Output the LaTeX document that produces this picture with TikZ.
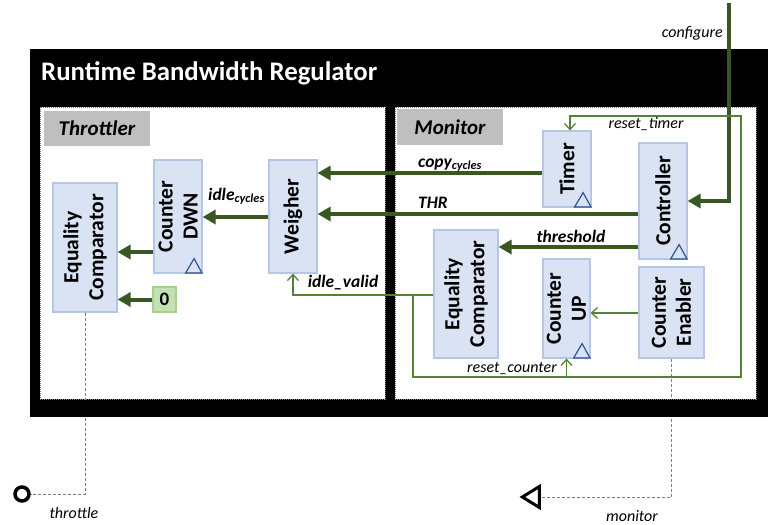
\documentclass[tikz,border=0pt]{standalone}
\usepackage{fontspec}
\setmainfont{Carlito}
\usetikzlibrary{arrows.meta,shapes.geometric,calc}
\definecolor{dkgreen}{HTML}{385723}
\definecolor{mdgreen}{HTML}{548235}
\definecolor{blkfill}{HTML}{DAE3F3}
\definecolor{blkdraw}{HTML}{B4C7E7}
\definecolor{tridraw}{HTML}{2F5597}
\definecolor{lblgray}{HTML}{BFBFBF}
\definecolor{zfill}{HTML}{C5E0B4}
\definecolor{zdraw}{HTML}{A9D18E}
\definecolor{dashgray}{HTML}{7F7F7F}
\begin{document}
\begin{tikzpicture}[x=1pt,y=-1pt,
  blk/.style={draw=blkdraw, fill=blkfill, line width=1.2pt, inner sep=0pt},
  blktext/.style={rotate=90, align=center, font=\fontsize{21.5}{25}\selectfont\bfseries, inner sep=0pt},
  thickarrow/.style={draw=dkgreen, line width=4pt, -{Triangle[length=13pt,width=14pt]}},
  thinarrow/.style={draw=mdgreen, line width=1.3pt, -{Straight Barb[length=6pt,width=11pt]}},
  thinline/.style={draw=mdgreen, line width=1.3pt},
  dashline/.style={draw=dashgray, line width=0.9pt, dash pattern=on 3pt off 2pt},
  panel/.style={draw=dashgray, fill=white, line width=0.9pt, dash pattern=on 1pt off 1pt},
  tagbox/.style={fill=lblgray, inner sep=0pt, font=\fontsize{21}{25}\selectfont\bfseries\itshape},
  siglabel/.style={font=\fontsize{17.5}{20}\selectfont\bfseries\itshape, inner sep=0pt},
  smalllabel/.style={font=\fontsize{16}{19}\selectfont\itshape, inner sep=0pt},
  clocktri/.style={draw=tridraw, line width=1.2pt}
]
\useasboundingbox (0,0) rectangle (780,525);

% frame and panels
\fill[black] (30,49) rectangle (768,417);
\draw[panel] (40,107) rectangle (385,399);
\draw[panel] (395,107) rectangle (756,399);
\node[anchor=base west, text=white, font=\fontsize{26.8}{30}\selectfont\bfseries, inner sep=0pt] (title) at (41,80) {Runtime Bandwidth Regulator};
\node[tagbox, minimum width=106, minimum height=35] (thtag) at (97,128.5) {Throttler};
\node[tagbox, minimum width=106, minimum height=36] (motag) at (450,127) {Monitor};

% blocks
\node[blk, minimum width=64, minimum height=129] (eqt) at (85,247.5) {};
\node[blktext] at (eqt) {Equality\\Comparator};
\node[blk, minimum width=48, minimum height=113] (cdwn) at (178,216.5) {};
\node[blktext] at (cdwn) {Counter\\DWN};
\node[blk, minimum width=48, minimum height=113] (weigh) at (293,216.5) {};
\node[blktext] at (weigh) {Weigher};
\node[draw=zdraw, fill=zfill, line width=1.2pt, minimum width=23, minimum height=25, inner sep=0pt, font=\fontsize{19}{21}\selectfont\bfseries] (zero) at (164.5,299.5) {0};
\node[blk, minimum width=48, minimum height=76] (timer) at (567,169) {};
\node[blktext] at (timer) {Timer};
\node[blk, minimum width=48, minimum height=116] (ctrl) at (663,201) {};
\node[blktext] at (ctrl) {Controller};
\node[blk, minimum width=64, minimum height=128] (eqm) at (466,294) {};
\node[blktext] at (eqm) {Equality\\Comparator};
\node[blk, minimum width=47, minimum height=99] (cup) at (566.5,308.5) {};
\node[blktext] at (cup) {Counter\\UP};
\node[blk, minimum width=65, minimum height=91] (cen) at (671.5,312.5) {};
\node[blktext] at (cen) {Counter\\Enabler};

% clock triangles
\foreach \b in {cdwn,timer,ctrl,cup}{
  \draw[clocktri] ($(\b.south east)+(-17,-0.6)$) -- ($(\b.south east)+(-8.5,-15)$) -- ($(\b.south east)+(-0.6,-0.6)$) -- cycle;
}

% terminals
\node[circle, draw=black, line width=3.5pt, minimum size=14pt, inner sep=0pt] (thr) at (22,494) {};
\node[isosceles triangle, isosceles triangle stretches, shape border rotate=180, draw=black, line width=3pt, minimum height=17pt, minimum width=21pt, inner sep=0pt] (mon) at (533.5,497) {};
\coordinate (cfgtop) at (729,3);

% dashed outputs
\draw[dashline] (eqt.south) -- (eqt.south |- thr) -- (thr.east);
\draw[dashline] (cen.south) -- (cen.south |- mon.east) -- (mon.east);
\fill[black] (30,400) rectangle (768,417);

% thick arrows
\draw[thickarrow] (cfgtop) -- (cfgtop |- ctrl.east) -- (ctrl.east);
\draw[thickarrow] (timer.west |- 0,173) -- (weigh.east |- 0,173);
\draw[thickarrow] (ctrl.west |- 0,214) -- (weigh.east |- 0,214);
\draw[thickarrow] (ctrl.west |- 0,247) -- (eqm.east |- 0,247);
\draw[thickarrow] (weigh.west |- 0,217) -- (cdwn.east |- 0,217);
\draw[thickarrow] (cdwn.west |- 0,252) -- (eqt.east |- 0,252);
\draw[thickarrow] (zero.west) -- (eqt.east |- zero.west);

% thin arrows
\coordinate (j1) at (413,295);
\draw[thinarrow] (eqm.west |- j1) -- (weigh.south |- j1) -- (weigh.south);
\draw[thinarrow] (j1) -- (413,377) -- (741,377) -- (741,116) -- ([xshift=3pt]timer.north |- 0,116) -- ([xshift=3pt]timer.north);
\draw[thinarrow] (cup.south |- 0,377) -- (cup.south);
\draw[thinarrow] (cen.west |- 0,313) -- (cup.east |- 0,313);

% labels
\node[smalllabel, anchor=east] (lcfg) at (723,33) {configure};
\node[smalllabel] (lrt) at (646,124) {reset\_timer};
\node[smalllabel] (lrc) at (512,369) {reset\_counter};
\node[smalllabel] (lthr) at (74,513) {throttle};
\node[smalllabel] (lmon) at (632,516) {monitor};
\node[siglabel, anchor=base west] (lcopy) at (418,167) {copy\textsubscript{cycles}};
\node[siglabel, anchor=base west] (lthrs) at (418,208) {THR};
\node[siglabel] (lth) at (571,236) {threshold};
\node[siglabel, anchor=base west] (lidle) at (208,200) {idle\textsubscript{cycles}};
\node[siglabel] (liv) at (343,283) {idle\_valid};
\end{tikzpicture}
\end{document}
